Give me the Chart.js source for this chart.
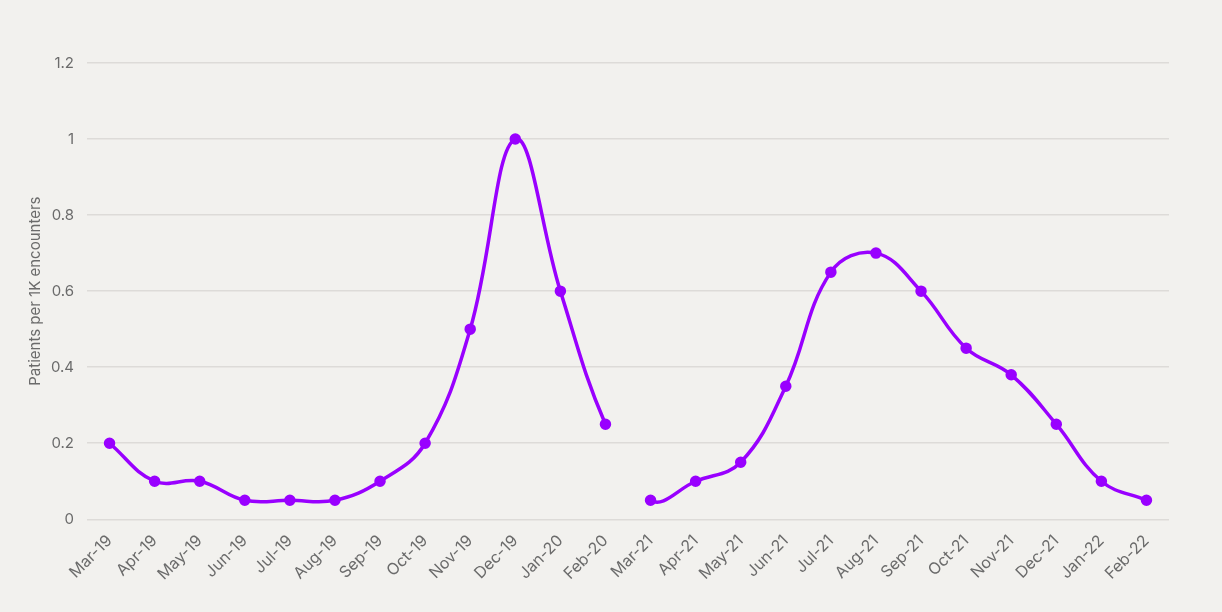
<!DOCTYPE html>
<html>
<head>
<meta charset="utf-8">
<script src="https://cdn.jsdelivr.net/npm/chart.js@4"></script>
<style>
  html, body { margin: 0; padding: 0; background: #f2f1ee; }
  #wrap { width: 1222px; height: 612px; }
</style>
</head>
<body>
<div id="wrap"><canvas id="lineChart"></canvas></div>
<script>
var monthsBefore = ['Mar-19', 'Apr-19', 'May-19', 'Jun-19', 'Jul-19', 'Aug-19', 'Sep-19', 'Oct-19', 'Nov-19', 'Dec-19', 'Jan-20', 'Feb-20'];
var monthsAfter = ['Mar-21', 'Apr-21', 'May-21', 'Jun-21', 'Jul-21', 'Aug-21', 'Sep-21', 'Oct-21', 'Nov-21', 'Dec-21', 'Jan-22', 'Feb-22'];
var valuesBefore = [0.2, 0.1, 0.1, 0.05, 0.05, 0.05, 0.1, 0.2, 0.5, 1.0, 0.6, 0.25];
var valuesAfter = [0.05, 0.1, 0.15, 0.35, 0.65, 0.7, 0.6, 0.45, 0.38, 0.25, 0.1, 0.05];
var yTicks = [0, 0.2, 0.4, 0.6, 0.8, 1, 1.2];

var purple = '#9900ff';
var textColor = '#6b6b6b';
var fontFamily = 'Inter, "Liberation Sans", sans-serif';

// one line, with the Feb-20 -> Mar-21 segment hidden
var gapIndex = valuesBefore.length - 1;

var ctx = document.getElementById('lineChart').getContext('2d');
var myLineChart = new Chart(ctx, {
  type: 'line',
  data: {
    labels: monthsBefore.concat(monthsAfter),
    datasets: [{
      data: valuesBefore.concat(valuesAfter),
      borderColor: purple,
      backgroundColor: purple,
      borderWidth: 3.5,
      pointRadius: 4,
      pointHoverRadius: 4,
      tension: 0.4,
      fill: false,
      segment: {
        borderColor: function(c) { return c.p0DataIndex === gapIndex ? 'rgba(0,0,0,0)' : purple; }
      }
    }]
  },
  options: {
    responsive: true,
    maintainAspectRatio: false,
    animation: false,
    layout: { padding: { top: 63, right: 53, bottom: 24, left: 22 } },
    plugins: {
      legend: { display: false },
      tooltip: { enabled: false }
    },
    scales: {
      x: {
        offset: true,
        grid: { display: false },
        border: { display: false },
        afterFit: function(scale) {
          // let rotated labels hang past the plot edge
          scale.paddingLeft = 0;
          scale.paddingRight = 0;
        },
        ticks: {
          color: textColor,
          font: { family: fontFamily, size: 16 },
          maxRotation: 45,
          minRotation: 45,
          autoSkip: false,
          padding: 4
        }
      },
      y: {
        min: 0,
        max: 1.2,
        afterBuildTicks: function(axis) {
          axis.ticks = yTicks.map(function(v) { return { value: v }; });
        },
        afterFit: function(scale) {
          scale.width = 65;
        },
        grid: { color: '#dddbd8', lineWidth: 1.5, drawTicks: false },
        border: { display: false },
        ticks: {
          color: textColor,
          font: { family: fontFamily, size: 15 },
          padding: 13,
          callback: function(v) { return String(v); }
        },
        title: {
          display: true,
          text: 'Patients per 1K encounters',
          color: textColor,
          font: { family: fontFamily, size: 15 },
          padding: { top: 4, bottom: 8 }
        }
      }
    }
  }
});
</script>
</body>
</html>
